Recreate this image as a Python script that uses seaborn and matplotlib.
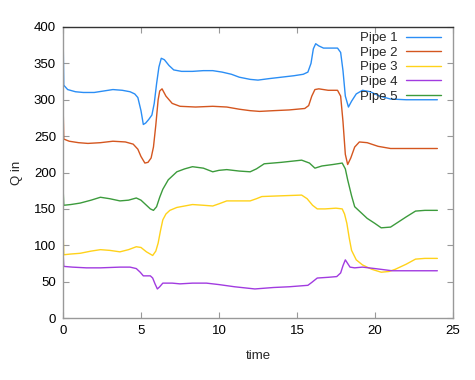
import pandas as pd
import matplotlib
matplotlib.use("Agg")
import matplotlib.pyplot as plt
import seaborn as sns

# ============================================================
# Data
# ============================================================

pipes = ["Pipe 1", "Pipe 2", "Pipe 3", "Pipe 4", "Pipe 5"]

t1 = [0, 0.05, 0.3, 0.8, 1.3, 2.0, 2.6, 3.2, 3.8, 4.3, 4.6, 4.8, 5.0, 5.15, 5.3,
      5.5, 5.7, 5.85, 6.0, 6.15, 6.3, 6.5, 6.8, 7.1, 7.6, 8.3, 9.0, 9.6, 10.2, 10.8,
      11.3, 12.0, 12.5, 13.2, 14.0, 14.8, 15.4, 15.7, 15.9, 16.05, 16.2, 16.4, 16.7,
      17.2, 17.6, 17.8, 17.95, 18.1, 18.3, 18.5, 18.8, 19.2, 19.7, 20.3, 21.0, 22.0,
      23.0, 24.0]
q1 = [400, 320, 314, 311, 310, 310, 312, 314, 313, 311, 308, 303, 285, 266, 268,
      273, 279, 295, 322, 345, 357, 355, 347, 341, 339, 339, 340, 340, 338, 335,
      331, 328, 327, 329, 331, 333, 335, 338, 350, 370, 377, 374, 371,
      371, 371, 365, 340, 305, 290, 298, 308, 313, 311, 305, 301, 300,
      300, 300]

t2 = [0, 0.05, 0.4, 1.0, 1.6, 2.4, 3.2, 4.0, 4.5, 4.8, 5.0, 5.25, 5.45, 5.65, 5.8,
      5.95, 6.1, 6.2, 6.35, 6.6, 7.0, 7.5, 8.5, 9.6, 10.5, 11.3, 12.0, 12.6, 13.5,
      14.5, 15.5, 15.75, 15.95, 16.15, 16.4, 17.0, 17.6, 17.8, 17.95, 18.1, 18.25,
      18.45, 18.7, 19.0, 19.5, 20.2, 21.0, 22.0, 24.0]
q2 = [300, 246, 243, 241, 240, 241, 243, 242, 239, 232, 222, 213, 214, 220, 235,
      265, 300, 312, 315, 305, 295, 291, 290, 291, 290, 287, 285, 284, 285,
      286, 288, 292, 305, 314, 315, 313, 313, 305, 270, 225, 211,
      220, 235, 242, 241, 236, 233, 233, 233]

t3 = [0, 0.05, 0.5, 1.1, 1.8, 2.4, 3.0, 3.65, 4.2, 4.7, 5.0, 5.35, 5.75, 5.95, 6.1,
      6.25, 6.4, 6.6, 6.85, 7.3, 8.3, 9.0, 9.6, 10.0, 10.5, 11.3, 12.0, 12.4, 12.75,
      14.0, 15.3, 15.65, 16.0, 16.3, 16.8, 17.5, 17.9, 18.05, 18.2, 18.35, 18.5,
      18.8, 19.2, 19.8, 20.4, 20.9, 21.3, 22.0, 22.6, 23.2, 24.0]
q3 = [125, 87, 88, 89, 92, 94, 93, 91, 94, 98, 97, 91, 86, 92, 103,
      120, 135, 143, 148, 152, 156, 155, 154, 157, 161, 161, 161, 164, 167,
      168, 169, 164, 155, 150, 150, 151, 150, 143, 130, 110, 93,
      80, 73, 67, 63, 64, 67, 74, 81, 82, 82]

t4 = [0, 0.05, 0.6, 1.5, 2.4, 3.65, 4.3, 4.7, 4.95, 5.15, 5.6, 5.75, 5.9, 6.05, 6.2,
      6.4, 7.0, 7.5, 8.3, 9.2, 10.0, 11.0, 12.3, 13.5, 14.5, 15.7, 15.95, 16.3, 17.0,
      17.55, 17.8, 17.95, 18.1, 18.25, 18.4, 18.7, 19.2, 20.0, 21.1, 22.0, 24.0]
q4 = [93, 71, 70, 69, 69, 70, 70, 68, 63, 58, 58, 55, 47, 40, 43,
      48, 48, 47, 48, 48, 46, 43, 40, 42, 43, 45, 49, 55, 56,
      57, 62, 72, 80, 75, 70, 69, 70, 68, 65, 65, 65]

t5 = [0, 0.05, 0.5, 1.1, 1.8, 2.4, 3.0, 3.65, 4.2, 4.7, 5.0, 5.35, 5.6, 5.8, 6.0,
      6.2, 6.4, 6.75, 7.3, 7.8, 8.3, 9.0, 9.6, 10.0, 10.5, 11.3, 12.0, 12.4, 12.9,
      14.0, 15.3, 15.8, 16.15, 16.6, 17.3, 17.9, 18.1, 18.25, 18.5, 18.7, 19.1, 19.5,
      20.0, 20.4, 21.0, 21.5, 22.0, 22.6, 23.2, 24.0]
q5 = [182, 155, 156, 158, 162, 166, 164, 161, 162, 165, 162, 155, 150, 148, 153,
      166, 177, 190, 201, 205, 208, 206, 201, 203, 204, 202, 201, 205, 212,
      214, 217, 213, 206, 209, 211, 213, 205, 190, 168, 153, 145, 137,
      130, 124, 125, 132, 139, 147, 148, 148]

x_ticks = [0, 5, 10, 15, 20, 25]
y_ticks = [0, 50, 100, 150, 200, 250, 300, 350, 400]

colors = {
    "Pipe 1": "#2b8ef5",
    "Pipe 2": "#d4561f",
    "Pipe 3": "#ffd21a",
    "Pipe 4": "#a13be0",
    "Pipe 5": "#3c9b3c",
}

# ============================================================
# Long-form table
# ============================================================

frames = []
for name, t, q in zip(pipes, [t1, t2, t3, t4, t5], [q1, q2, q3, q4, q5]):
    frames.append(pd.DataFrame({"time": t, "Q in": q, "pipe": name}))
df = pd.concat(frames, ignore_index=True)

# ============================================================
# Plot
# ============================================================

sns.set_style("white")
plt.rcParams["font.family"] = ["Liberation Sans", "DejaVu Sans"]

fig = plt.figure(figsize=(4.75, 3.8), dpi=100)
ax = fig.add_axes([0.1326, 0.163, 0.821, 0.766])

sns.lineplot(
    data=df,
    x="time",
    y="Q in",
    hue="pipe",
    hue_order=pipes,
    palette=colors,
    estimator=None,
    sort=False,
    linewidth=1.0,
    ax=ax
)

ax.set_xlim(0, 25)
ax.set_ylim(0, 400)
ax.set_xticks(x_ticks)
ax.set_yticks(y_ticks)
ax.tick_params(direction="in", length=4, width=0.8, colors="#999999",
               labelcolor="black", labelsize=9.5, top=True, right=True,
               bottom=True, left=True, pad=5)

for side in ["left", "bottom", "right"]:
    ax.spines[side].set_color("#999999")
    ax.spines[side].set_linewidth(1.0)
ax.spines["top"].set_color("#333333")
ax.spines["top"].set_linewidth(1.0)

ax.set_xlabel("time", fontsize=9.5, labelpad=9)
ax.set_ylabel("Q in", fontsize=9.5, labelpad=8)

ax.legend(
    loc="upper right",
    bbox_to_anchor=(0.99, 1.01),
    frameon=False,
    markerfirst=False,
    fontsize=9.5,
    handlelength=2.7,
    handletextpad=0.6,
    labelspacing=0.18,
    borderaxespad=0.2
)

fig.savefig("out.png", dpi=100)
plt.close(fig)
